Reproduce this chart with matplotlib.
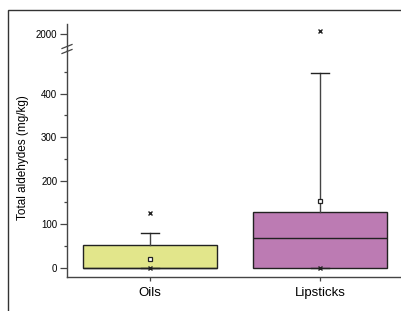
import matplotlib.pyplot as plt
from matplotlib.patches import Rectangle
from matplotlib.lines import Line2D

plt.rcParams['font.family'] = ['Liberation Sans', 'DejaVu Sans']

categories = ["Oils", "Lipsticks"]
q1 = [0, 0]
medians = [0, 68]
q3 = [53, 129]
whis_lo = [0, 0]
whis_hi = [80, 448]
means = [21, 154]
outliers = [[126, 0], [2050, 0]]
colors = ["#E2E68B", "#BC7BB3"]

stats = []
for i in range(len(categories)):
    stats.append(dict(label=categories[i], q1=q1[i], med=medians[i], q3=q3[i],
                      whislo=whis_lo[i], whishi=whis_hi[i], mean=means[i],
                      fliers=outliers[i]))

fig = plt.figure(figsize=(4.01, 3.11), dpi=100)
W, H = 401, 311
ax_top = fig.add_axes([67 / W, 1 - 50 / H, 1 - 67 / W, 26 / H])
ax = fig.add_axes([67 / W, 1 - 277 / H, 1 - 67 / W, 227 / H])

edge = "#222222"
for a in (ax, ax_top):
    bp = a.bxp(stats, positions=[1, 2], widths=0.79, capwidths=0.11,
               patch_artist=True, showmeans=True, showfliers=True,
               boxprops=dict(edgecolor=edge, linewidth=1.0),
               medianprops=dict(color=edge, linewidth=1.0),
               whiskerprops=dict(color="#444444", linewidth=1.0),
               capprops=dict(color=edge, linewidth=1.0),
               meanprops=dict(marker="s", markersize=3, markerfacecolor="white",
                              markeredgecolor=edge, markeredgewidth=0.9),
               flierprops=dict(marker="x", markersize=3, markeredgecolor=edge,
                               markeredgewidth=1.0))
    for patch, c in zip(bp["boxes"], colors):
        patch.set_facecolor(c)
    a.set_xlim(0.512, 2.476)
    for s in ("top", "right"):
        a.spines[s].set_visible(False)
    for s in ("left", "bottom"):
        a.spines[s].set_color("#444444")
        a.spines[s].set_linewidth(1.0)
    a.tick_params(axis="y", which="major", direction="out", length=5, width=0.9,
                  pad=2, labelsize=7, color="#444444")
    a.tick_params(axis="y", which="minor", direction="out", length=2.5, width=0.9,
                  color="#444444")

ax.set_ylim(-21, 500)
ax.set_yticks([0, 100, 200, 300, 400])
ax.set_yticks([50, 150, 250, 350, 450], minor=True)
ax.tick_params(axis="x", direction="out", length=3, width=0.9, pad=4,
               labelsize=9.5, color="#444444")
ax.set_xticklabels(categories)

ax_top.set_ylim(1744, 2160)
ax_top.set_yticks([2000])
ax_top.spines["bottom"].set_visible(False)
ax_top.tick_params(axis="x", bottom=False, labelbottom=False)

# axis break marks
for yb in (46.5, 51.5):
    fig.add_artist(Line2D([62 / W, 72 / W], [1 - (yb + 2) / H, 1 - (yb - 2) / H],
                          color="#444444", lw=0.9))

fig.text(23 / W, 1 - 158 / H, "Total aldehydes (mg/kg)", rotation=90,
         ha="center", va="center", fontsize=8.5)

# outer frame
fig.add_artist(Rectangle((8 / W, -0.1), 1.1, 1 - 10 / H + 0.1,
                         transform=fig.transFigure, fill=False,
                         edgecolor="#333333", lw=1.0))

fig.savefig("out.png", dpi=100)
